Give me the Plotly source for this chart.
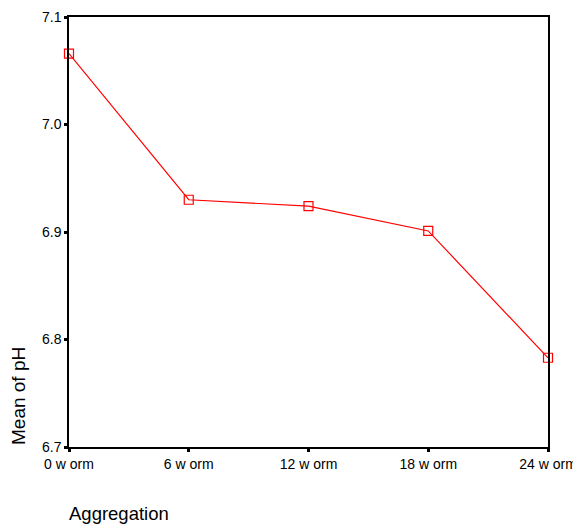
import plotly.graph_objects as go

categories = ["0 w orm", "6 w orm", "12 w orm", "18 w orm", "24 w orm"]
mean_ph = [7.066, 6.930, 6.924, 6.901, 6.783]
y_ticks = [6.7, 6.8, 6.9, 7.0, 7.1]

OFF = 8  # default page body margin
W, H = 581 - OFF, 527 - OFF
# plot area in window pixels: x 69..548, y 17..447
L, T = 69 - OFF, 17 - OFF
R = W - (548 - OFF)
B = H - (447 - OFF)
PW, PH = W - L - R, H - T - B


def px_x(x):
    return (x - OFF - L) / PW


def px_y(y):
    return (H - B - (y - OFF)) / PH


fig = go.Figure()
fig.add_trace(go.Scatter(
    x=list(range(len(categories))), y=mean_ph, mode="lines+markers",
    line=dict(color="#ff0000", width=1.2),
    marker=dict(symbol="square-open", size=9, color="#ff0000", line=dict(width=1.2)),
    cliponaxis=False, showlegend=False,
))

font = "Liberation Sans, Arial, sans-serif"
fig.update_layout(
    width=W, height=H, margin=dict(l=L, r=R, t=T, b=B, autoexpand=False),
    paper_bgcolor="white", plot_bgcolor="white",
    font=dict(family=font, size=14, color="black"),
    xaxis=dict(
        range=[0, len(categories) - 1], tickmode="array",
        tickvals=list(range(len(categories))), ticktext=categories,
        showgrid=False, zeroline=False, showline=True, linecolor="black",
        linewidth=1.5, mirror=True, ticks="outside", ticklen=3, tickwidth=3,
        tickcolor="black", tickfont=dict(size=14, family=font),
    ),
    yaxis=dict(
        range=[6.7, 7.1], tickmode="array", tickvals=y_ticks,
        ticktext=[f"{v:.1f}" for v in y_ticks],
        showgrid=False, zeroline=False, showline=True, linecolor="black",
        linewidth=1.5, mirror=True, ticks="outside", ticklen=3, tickwidth=3,
        tickcolor="black", tickfont=dict(size=14, family=font),
    ),
    annotations=[
        dict(text="Mean of pH", xref="paper", yref="paper",
             x=px_x(18), y=px_y(396),
             textangle=-90, showarrow=False, xanchor="center", yanchor="middle",
             font=dict(size=19, family=font)),
        dict(text="Aggregation", xref="paper", yref="paper",
             x=px_x(67), y=px_y(514),
             showarrow=False, xanchor="left", yanchor="middle",
             font=dict(size=18.5, family=font)),
    ],
)
fig.write_html("out.html")
